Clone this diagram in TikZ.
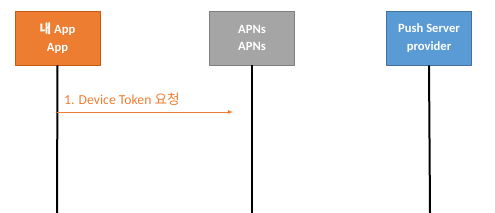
\documentclass[tikz,border=0pt]{standalone}
\usepackage{fontspec}
\setmainfont{Carlito}
\newfontfamily\kr{Noto Sans CJK KR}
\definecolor{apporange}{HTML}{ED7D31}
\definecolor{appedge}{HTML}{C55A11}
\definecolor{apnsgray}{HTML}{A5A5A5}
\definecolor{apnsedge}{HTML}{7F7F7F}
\definecolor{pushblue}{HTML}{5B9BD5}
\definecolor{pushedge}{HTML}{41719C}
\begin{document}
\begin{tikzpicture}[x=1pt,y=-1pt,line cap=round,line join=round,>=latex,
  actor/.style={draw,line width=0.8pt,minimum width=85pt,minimum height=54pt,
    text=white,font=\fontsize{12.6}{17.5}\selectfont\bfseries,align=center,inner sep=0pt},
  lifeline/.style={line width=2pt,line cap=butt},
  msg/.style={apporange,line width=0.8pt,-latex}]
  \useasboundingbox (0,0) rectangle (495,213);
  \node[actor,fill=apporange,draw=appedge] (app) at (57.5,38) {{\kr 내} App\\App};
  \node[actor,fill=apnsgray,draw=apnsedge] (apns) at (252,38) {APNs\\APNs};
  \node[actor,fill=pushblue,draw=pushedge] (push) at (429,38) {Push Server\\provider};
  \coordinate (append) at (57,213);
  \coordinate (apnsend) at (252,213);
  \coordinate (pushend) at (430,213);
  \draw[lifeline] (app.south) -- (append);
  \draw[lifeline] (apns.south) -- (apnsend);
  \draw[lifeline] (push.south) -- (pushend);
  \coordinate (msgstart) at (57,112);
  \coordinate (msgend) at (233,112);
  \draw[msg] (msgstart) -- (msgend);
  \node[apporange,anchor=base west,font=\fontsize{13.7}{15}\selectfont,inner sep=0pt] (req) at (64,105) {1. Device Token {\kr 요청}};
\end{tikzpicture}
\end{document}
